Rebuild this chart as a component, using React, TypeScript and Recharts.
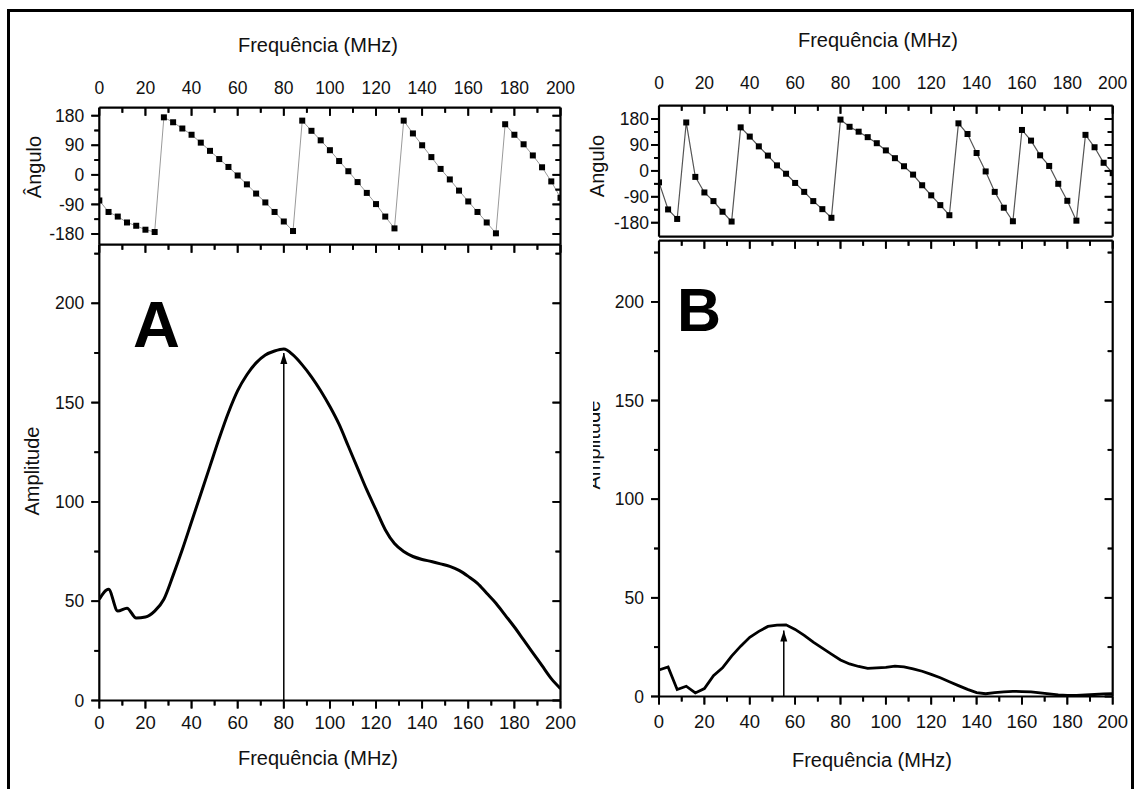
import React from 'react';
import { LineChart, Line, XAxis, YAxis } from 'recharts';

const FONT = '"Liberation Sans", Arial, Helvetica, sans-serif';
const W = 1135;
const H = 789;
const TINY = 0.01;

// ---------- data ----------
const freq = [0, 4, 8, 12, 16, 20, 24, 28, 32, 36, 40, 44, 48, 52, 56, 60, 64, 68, 72, 76, 80, 84, 88, 92, 96, 100, 104, 108, 112, 116, 120, 124, 128, 132, 136, 140, 144, 148, 152, 156, 160, 164, 168, 172, 176, 180, 184, 188, 192, 196, 200];

const ampA = [51, 56, 45, 46.5, 41.5, 42, 45, 51, 63, 76, 90, 104, 118, 132, 145, 156, 164, 170, 174, 176, 177, 174, 169, 163, 156, 148, 139, 128, 117, 106, 96, 86, 79, 75, 72.5, 71, 70, 68.8, 67.5, 65.5, 62.5, 59, 54, 49, 43, 37, 30.5, 24, 17.5, 11, 6];

const ampB = [13.5, 15, 3.5, 5.2, 1.8, 4, 10.5, 14.5, 20.5, 25.5, 30, 33, 35.5, 36.2, 36.3, 34, 31, 27.5, 24.5, 21.5, 18.5, 16.5, 15.2, 14.2, 14.5, 14.8, 15.4, 15, 14, 12.8, 11.2, 9.5, 7.5, 5.5, 3.6, 2, 1.4, 1.9, 2.3, 2.6, 2.5, 2.3, 1.8, 1.3, 0.8, 0.5, 0.6, 0.8, 1, 1.3, 1.4];

const phaseA = [-78, -113, -127, -145, -155, -167, -174, 175, 160, 141, 122, 98, 73, 48, 24, -2, -29, -57, -84, -113, -142, -171, 165, 134, 105, 75, 42, 11, -22, -55, -89, -127, -163, 165, 126, 90, 54, 18, -14, -48, -81, -113, -145, -178, 154, 122, 93, 59, 23, -20, -70];

const phaseB = [-40, -134, -167, 168, -21, -75, -105, -142, -176, 151, 119, 85, 53, 19, -10, -42, -73, -105, -133, -163, 178, 153, 136, 117, 96, 71, 44, 16, -13, -50, -85, -119, -154, 165, 128, 62, -2, -73, -128, -175, 142, 105, 54, 17, -45, -104, -173, 125, 82, 28, -8];

const peakA = 80;
const peakATop = 175;
const peakB = 55;
const peakBTop = 33.5;

// ---------- tick labels ----------
const xMajorTicks = [0, 20, 40, 60, 80, 100, 120, 140, 160, 180, 200];
const xMinorTicks = [10, 30, 50, 70, 90, 110, 130, 150, 170, 190];
const ampMajorTicks = [0, 50, 100, 150, 200];
const ampMinorTicks = [25, 75, 125, 175, 225];
const phaseMajorTicks = [-180, -90, 0, 90, 180];
const phaseMinorTicks = [-135, -45, 45, 135];

const rowsA = freq.map((f, i) => ({ f, amp: ampA[i], phase: phaseA[i] }));
const rowsB = freq.map((f, i) => ({ f, amp: ampB[i], phase: phaseB[i] }));
const arrowA = [{ f: peakA, amp: 0 }, { f: peakA, amp: peakATop }];
const arrowB = [{ f: peakB, amp: 0 }, { f: peakB, amp: peakBTop }];

// ---------- styles ----------
const AXIS_LINE = { stroke: '#000', strokeWidth: 2.2 };
const TICK_LINE = { stroke: '#000', strokeWidth: 1.8 };
const TICK_W = 1.8;
const MAJOR = 8;
const MINOR = 5;

// custom tick: draws the tick mark itself (from the text anchor position) plus optional label
function tickRenderer(kind: 'side' | 'horiz' | 'topLabel', size: number, margin: number, label: boolean, fontSize: number) {
  return (props: any) => {
    const { x, y, payload, index } = props;
    const key = `tk-${kind}-${size}-${index}`;
    if (x == null || y == null || isNaN(x) || isNaN(y)) return <g key={key} />;
    if (kind === 'side') {
      const ax = x + margin + size;
      return (
        <g key={key}>
          {size > 0 && <line x1={ax - size} x2={ax} y1={y} y2={y} stroke="#000" strokeWidth={TICK_W} />}
          {label && (
            <text x={x} y={y} dy="0.35em" textAnchor="end" fontSize={fontSize} fill="#111" fontFamily={FONT}>
              {payload.value}
            </text>
          )}
        </g>
      );
    }
    if (kind === 'horiz') {
      const ay = y - margin - size;
      return (
        <g key={key}>
          {size > 0 && <line x1={x} x2={x} y1={ay} y2={ay + size} stroke="#000" strokeWidth={TICK_W} />}
          {label && (
            <text x={x} y={y} dy="0.71em" textAnchor="middle" fontSize={fontSize} fill="#111" fontFamily={FONT}>
              {payload.value}
            </text>
          )}
        </g>
      );
    }
    return (
      <g key={key}>
        <text x={x} y={y} textAnchor="middle" fontSize={fontSize} fill="#111" fontFamily={FONT}>
          {payload.value}
        </text>
      </g>
    );
  };
}

const SquareDot = (props: any) => {
  const { cx, cy, index } = props;
  if (cx == null || cy == null) return <g key={`sq-${index}`} />;
  return <rect key={`sq-${index}`} x={cx - 3} y={cy - 3} width={6} height={6} fill="#000" />;
};

const ArrowHead = (props: any) => {
  const { cx, cy, index } = props;
  if (index !== 1 || cx == null) return <g key={`ah-${index}`} />;
  return (
    <polygon
      key={`ah-${index}`}
      points={`${cx},${cy} ${cx - 3.5},${cy + 11} ${cx + 3.5},${cy + 11}`}
      fill="#000"
    />
  );
};

type Box = { x1: number; x2: number; y1: number; y2: number };

type FrameOpts = {
  yKey: string;
  yDomain: [number, number];
  yMajor: number[];
  yMinor: number[];
  labelTop: boolean;
  topMargin: number;
  labelBottom: boolean;
  bottomMargin: number;
  bottomLine: boolean;
  leftMargin: number;
  leftFont: number;
  xFont: number;
};

function frameAxes(o: FrameOpts) {
  const els: React.ReactNode[] = [];
  const xCommon = { type: 'number' as const, dataKey: 'f', domain: [0, 200], allowDataOverflow: true, interval: 0 as const, height: TINY };
  const yCommon = { type: 'number' as const, dataKey: o.yKey, domain: o.yDomain, allowDataOverflow: true, interval: 0 as const, width: TINY };
  if (o.labelBottom) {
    els.push(
      <XAxis key="xb" xAxisId="main" orientation="bottom" {...xCommon} ticks={xMajorTicks} tickSize={MAJOR}
        tickMargin={o.bottomMargin} axisLine={AXIS_LINE} tickLine={TICK_LINE}
        tick={tickRenderer('horiz', MAJOR, o.bottomMargin, true, o.xFont)} />
    );
    els.push(
      <XAxis key="xbm" xAxisId="bmin" orientation="bottom" {...xCommon} ticks={xMinorTicks} tickSize={MINOR}
        tickMargin={0} axisLine={false} tickLine={TICK_LINE}
        tick={tickRenderer('horiz', MINOR, 0, false, o.xFont)} />
    );
  } else {
    els.push(
      <XAxis key="xb" xAxisId="main" orientation="bottom" {...xCommon} ticks={xMajorTicks} tickSize={0}
        axisLine={o.bottomLine ? AXIS_LINE : false} tickLine={false} tick={false} />
    );
  }
  els.push(
    <XAxis key="xt" xAxisId="top" orientation="top" {...xCommon} ticks={xMajorTicks} tickSize={0}
      tickMargin={o.topMargin} axisLine={AXIS_LINE} tickLine={false}
      tick={o.labelTop ? tickRenderer('topLabel', 0, o.topMargin, true, o.xFont) : false} />
  );
  els.push(
    <XAxis key="xtj" xAxisId="topmaj" orientation="top" mirror {...xCommon} ticks={xMajorTicks} tickSize={MAJOR}
      tickMargin={0} axisLine={false} tickLine={TICK_LINE}
      tick={tickRenderer('horiz', MAJOR, 0, false, o.xFont)} />
  );
  els.push(
    <XAxis key="xtm" xAxisId="topmin" orientation="top" mirror {...xCommon} ticks={xMinorTicks} tickSize={MINOR}
      tickMargin={0} axisLine={false} tickLine={TICK_LINE}
      tick={tickRenderer('horiz', MINOR, 0, false, o.xFont)} />
  );
  els.push(
    <YAxis key="yl" yAxisId="main" orientation="left" {...yCommon} ticks={o.yMajor} tickSize={MAJOR}
      tickMargin={o.leftMargin} axisLine={AXIS_LINE} tickLine={TICK_LINE}
      tick={tickRenderer('side', MAJOR, o.leftMargin, true, o.leftFont)} />
  );
  els.push(
    <YAxis key="ylm" yAxisId="lmin" orientation="left" {...yCommon} ticks={o.yMinor} tickSize={MINOR}
      tickMargin={0} axisLine={false} tickLine={TICK_LINE}
      tick={tickRenderer('side', MINOR, 0, false, o.leftFont)} />
  );
  els.push(
    <YAxis key="yr" yAxisId="r" orientation="right" mirror {...yCommon} ticks={o.yMajor} tickSize={MAJOR}
      tickMargin={0} axisLine={AXIS_LINE} tickLine={TICK_LINE}
      tick={tickRenderer('side', MAJOR, 0, false, o.leftFont)} />
  );
  els.push(
    <YAxis key="yrm" yAxisId="rmin" orientation="right" mirror {...yCommon} ticks={o.yMinor} tickSize={MINOR}
      tickMargin={0} axisLine={false} tickLine={TICK_LINE}
      tick={tickRenderer('side', MINOR, 0, false, o.leftFont)} />
  );
  return els;
}

function marginOf(b: Box) {
  return { left: b.x1, right: W - b.x2, top: b.y1, bottom: H - b.y2 };
}

const Layer = ({ children }: { children: React.ReactNode }) => (
  <div style={{ position: 'absolute', left: 0, top: 0, width: W, height: H }}>{children}</div>
);

// plot boxes
const boxPhaseA: Box = { x1: 99.3, x2: 560.5, y1: 107.7, y2: 244.7 };
const boxAmpA: Box = { x1: 99.3, x2: 560.5, y1: 244.7, y2: 700.5 };
const boxPhaseB: Box = { x1: 659, x2: 1112.7, y1: 105.7, y2: 236.7 };
const boxAmpB: Box = { x1: 659, x2: 1112.7, y1: 240.7, y2: 696.5 };

export default function App() {
  return (
    <div style={{ position: 'absolute', left: 0, top: 0, width: W, height: H, background: '#fff', overflow: 'hidden', fontFamily: FONT }}>
      <div style={{ position: 'absolute', left: 7, top: 9, width: 1127, height: 800, borderLeft: '3px solid #000', borderTop: '3px solid #000', borderRight: '3px solid #000', boxSizing: 'border-box' }} />

      <Layer>
        <LineChart width={W} height={H} data={rowsA} margin={marginOf(boxPhaseA)}>
          {frameAxes({ yKey: 'phase', yDomain: [-212.6, 204.3], yMajor: phaseMajorTicks, yMinor: phaseMinorTicks, labelTop: true, topMargin: 13.5, labelBottom: false, bottomMargin: 0, bottomLine: false, leftMargin: 7, leftFont: 17.5, xFont: 17.5 })}
          <Line xAxisId="main" yAxisId="main" dataKey="phase" type="linear" stroke="#9a9a9a" strokeWidth={1} dot={SquareDot} isAnimationActive={false} />
        </LineChart>
      </Layer>

      <Layer>
        <LineChart width={W} height={H} data={rowsA} margin={marginOf(boxAmpA)}>
          {frameAxes({ yKey: 'amp', yDomain: [0, 229.5], yMajor: ampMajorTicks, yMinor: ampMinorTicks, labelTop: false, topMargin: 0, labelBottom: true, bottomMargin: 7.5, bottomLine: true, leftMargin: 7, leftFont: 17.5, xFont: 18.5 })}
          <Line xAxisId="main" yAxisId="main" dataKey="amp" type="monotone" stroke="#000" strokeWidth={3} dot={false} isAnimationActive={false} />
          <Line xAxisId="main" yAxisId="main" data={arrowA} dataKey="amp" type="linear" stroke="#000" strokeWidth={1.5} dot={ArrowHead} isAnimationActive={false} />
        </LineChart>
      </Layer>

      <Layer>
        <LineChart width={W} height={H} data={rowsB} margin={marginOf(boxPhaseB)}>
          {frameAxes({ yKey: 'phase', yDomain: [-228.6, 226.2], yMajor: phaseMajorTicks, yMinor: phaseMinorTicks, labelTop: true, topMargin: 16.4, labelBottom: false, bottomMargin: 0, bottomLine: true, leftMargin: 2, leftFont: 17.5, xFont: 17.5 })}
          <Line xAxisId="main" yAxisId="main" dataKey="phase" type="linear" stroke="#555" strokeWidth={1.2} dot={SquareDot} isAnimationActive={false} />
        </LineChart>
      </Layer>

      <Layer>
        <LineChart width={W} height={H} data={rowsB} margin={marginOf(boxAmpB)}>
          {frameAxes({ yKey: 'amp', yDomain: [0, 231], yMajor: ampMajorTicks, yMinor: ampMinorTicks, labelTop: false, topMargin: 0, labelBottom: true, bottomMargin: 10.5, bottomLine: true, leftMargin: 7, leftFont: 17.5, xFont: 18.5 })}
          <Line xAxisId="main" yAxisId="main" dataKey="amp" type="linear" stroke="#000" strokeWidth={2.8} dot={false} isAnimationActive={false} />
          <Line xAxisId="main" yAxisId="main" data={arrowB} dataKey="amp" type="linear" stroke="#000" strokeWidth={1.5} dot={ArrowHead} isAnimationActive={false} />
        </LineChart>
      </Layer>

      <svg width={W} height={H} style={{ position: 'absolute', left: 0, top: 0 }} fontFamily={FONT}>
        <text x={318} y={52} textAnchor="middle" fontSize={20} fill="#111">Frequência (MHz)</text>
        <text x={878} y={47} textAnchor="middle" fontSize={20} fill="#111">Frequência (MHz)</text>
        <text x={318} y={765} textAnchor="middle" fontSize={20} fill="#111">Frequência (MHz)</text>
        <text x={872} y={767} textAnchor="middle" fontSize={20} fill="#111">Frequência (MHz)</text>

        <text x={41} y={167} transform="rotate(-90, 41, 167)" textAnchor="middle" fontSize={20} fill="#111">Ângulo</text>
        <text x={39} y={471} transform="rotate(-90, 39, 471)" textAnchor="middle" fontSize={20} fill="#111">Amplitude</text>
        <text x={604} y={166} transform="rotate(-90, 604, 166)" textAnchor="middle" fontSize={20} fill="#111">Angulo</text>
        <text x={600} y={445} transform="rotate(-90, 600, 445)" textAnchor="middle" fontSize={20} fill="#111">Amplitude</text>
        <rect x={572} y={385} width={21} height={125} fill="#fff" />

        <text x={133} y={347} fontSize={65} fontWeight="bold" fill="#000">A</text>
        <text x={677} y={331} fontSize={61} fontWeight="bold" fill="#000">B</text>
      </svg>
    </div>
  );
}
